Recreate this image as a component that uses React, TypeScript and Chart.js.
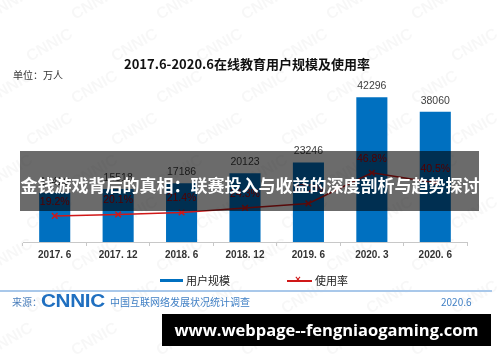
import React, { useEffect, useRef } from "react";
import { Chart, registerables } from "chart.js";
Chart.register(...registerables);

const categories = ["2017. 6", "2017. 12", "2018. 6", "2018. 12", "2019. 6", "2020. 3", "2020. 6"];
const users = [14426, 15518, 17186, 20123, 23246, 42296, 38060];
const rates = [19.2, 20.1, 21.4, 24.3, 27.2, 46.8, 40.5];
const seriesNames = ["用户规模", "使用率"];
const titleText = "2017.6-2020.6在线教育用户规模及使用率";
const unitText = "单位：万人";
const bannerText = "金钱游戏背后的真相：联赛投入与收益的深度剖析与趋势探讨";
const urlText = "www.webpage--fengniaogaming.com";
const sourceLabel = "来源：";
const sourceName = "中国互联网络发展状况统计调查";
const sourceDate = "2020.6";

const CJK = '"Noto Sans CJK SC", "Liberation Sans", sans-serif';
const LAT = '"Liberation Sans", Arial, sans-serif';
const BLUE = "#0070C0";
const RED = "#D01818";

const labelPlugin = {
  id: "valueLabels",
  afterDatasetsDraw(chart: any) {
    const ctx = chart.ctx;
    ctx.save();
    ctx.textAlign = "center";
    ctx.textBaseline = "middle";
    const barMeta = chart.getDatasetMeta(1);
    ctx.font = `10.5px ${LAT}`;
    ctx.fillStyle = "#404040";
    barMeta.data.forEach((el: any, i: number) => {
      ctx.fillText(String(users[i]), el.x, el.y - 11);
    });
    const lineMeta = chart.getDatasetMeta(0);
    ctx.font = `10.5px ${LAT}`;
    ctx.fillStyle = "#C00000";
    lineMeta.data.forEach((el: any, i: number) => {
      ctx.fillText(rates[i].toFixed(1) + "%", el.x, el.y - 14);
    });
    ctx.restore();
  },
};

const watermarkPlugin = {
  id: "watermark",
  beforeDraw(chart: any) {
    const ctx = chart.ctx;
    ctx.save();
    ctx.fillStyle = "rgba(0,0,0,0.03)";
    ctx.font = `bold 16px ${LAT}`;
    for (let r = 0; r < 9; r++) {
      for (let c = 0; c < 6; c++) {
        const x = c * 85 + (r % 2) * 40 - 10;
        const y = r * 42 + 20;
        ctx.save();
        ctx.translate(x, y);
        ctx.rotate(-Math.PI / 6);
        ctx.fillText("CNNIC", 0, 0);
        ctx.restore();
      }
    }
    ctx.restore();
  },
};

function ChartCanvas() {
  const ref = useRef<HTMLCanvasElement>(null);
  useEffect(() => {
    if (!ref.current) return;
    const chart = new Chart(ref.current, {
      type: "bar",
      data: {
        labels: categories,
        datasets: [
          {
            type: "line",
            label: seriesNames[1],
            data: rates,
            yAxisID: "y2",
            borderColor: RED,
            backgroundColor: RED,
            borderWidth: 1.5,
            pointStyle: "crossRot",
            pointRadius: 4,
            pointBorderWidth: 1.5,
            pointBorderColor: RED,
            tension: 0,
            order: 0,
          } as any,
          {
            type: "bar",
            label: seriesNames[0],
            data: users,
            yAxisID: "y",
            backgroundColor: BLUE,
            borderWidth: 0,
            categoryPercentage: 1,
            barPercentage: 0.49,
            order: 1,
          } as any,
        ],
      },
      options: {
        responsive: false,
        animation: false,
        layout: { padding: { left: 23, right: 33, top: 71, bottom: 98 } },
        plugins: { legend: { display: false }, tooltip: { enabled: false } },
        scales: {
          x: {
            offset: true,
            grid: { display: true, drawOnChartArea: false, drawTicks: true, tickLength: 4, color: "#c8c8c8", offset: true },
            border: { display: true, color: "#c8c8c8" },
            ticks: { color: "#333", font: { family: LAT, size: 10, weight: "bold" }, padding: 3, maxRotation: 0, autoSkip: false },
          },
          y: { display: false, min: 0, max: 50000 },
          y2: { display: false, min: 2.5, max: 112, position: "right" },
        },
      } as any,
      plugins: [labelPlugin, watermarkPlugin],
    });
    return () => chart.destroy();
  }, []);
  return <canvas ref={ref} width={500} height={362} style={{ position: "absolute", left: 0, top: 0, width: 500, height: 362 }} />;
}

export default function App() {
  const abs = (s: any) => ({ position: "absolute" as const, whiteSpace: "nowrap" as const, ...s });
  return (
    <div style={{ position: "fixed", left: 0, top: 0, width: 500, height: 362, background: "#fff", overflow: "hidden" }}>
      <ChartCanvas />
      <div style={abs({ left: 0, width: 494, top: 55, textAlign: "center", font: `bold 13px ${CJK}`, color: "#111", lineHeight: "18px" })}>{titleText}</div>
      <div style={abs({ left: 13, top: 67, font: `10px ${CJK}`, color: "#333", lineHeight: "16px" })}>{unitText}</div>
      {/* legend */}
      <div style={abs({ left: 160, top: 279, width: 23, height: 3, background: BLUE })} />
      <div style={abs({ left: 186, top: 272, font: `11px ${CJK}`, color: "#222", lineHeight: "17px" })}>{seriesNames[0]}</div>
      <div style={abs({ left: 287, top: 280, width: 25, height: 1.5, background: RED })} />
      <div style={abs({ left: 295, top: 274, font: `bold 10px ${LAT}`, color: RED, lineHeight: "12px" })}>×</div>
      <div style={abs({ left: 315, top: 272, font: `11px ${CJK}`, color: "#222", lineHeight: "17px" })}>{seriesNames[1]}</div>
      {/* footer */}
      <div style={abs({ left: 0, top: 290, width: 492, height: 2, background: "#a9c8ea" })} />
      <div style={abs({ left: 12, top: 294, font: `10px ${CJK}`, color: "#4a7ebb", lineHeight: "15px" })}>{sourceLabel}</div>
      <div style={abs({ left: 41, top: 291, font: `900 18px ${LAT}`, color: "#1f6fc0", lineHeight: "21px", letterSpacing: "-0.3px", transform: "scaleX(1.15)", transformOrigin: "left center" })}>CNNIC</div>
      <div style={abs({ left: 110, top: 294, font: `10px ${CJK}`, color: "#3f7fc4", lineHeight: "15px" })}>{sourceName}</div>
      <div style={abs({ left: 441, top: 294, font: `10px ${CJK}`, color: "#3f7fc4", lineHeight: "15px" })}>{sourceDate}</div>
      {/* banner */}
      <div style={abs({ left: 20, top: 151, width: 459, height: 60, background: "rgba(0,0,0,0.58)" })} />
      <div style={abs({ left: 20, width: 460, top: 173, textAlign: "center", font: `bold 17px ${CJK}`, color: "#fff", lineHeight: "24px" })}>{bannerText}</div>
      {/* url box */}
      <div style={abs({ left: 162, top: 314, width: 329, height: 32, background: "#000" })} />
      <div style={abs({ left: 162, width: 329, top: 318, textAlign: "center", font: `bold 16.5px "Open Sans", ${LAT}`, color: "#fff", lineHeight: "23px" })}>{urlText}</div>
    </div>
  );
}
